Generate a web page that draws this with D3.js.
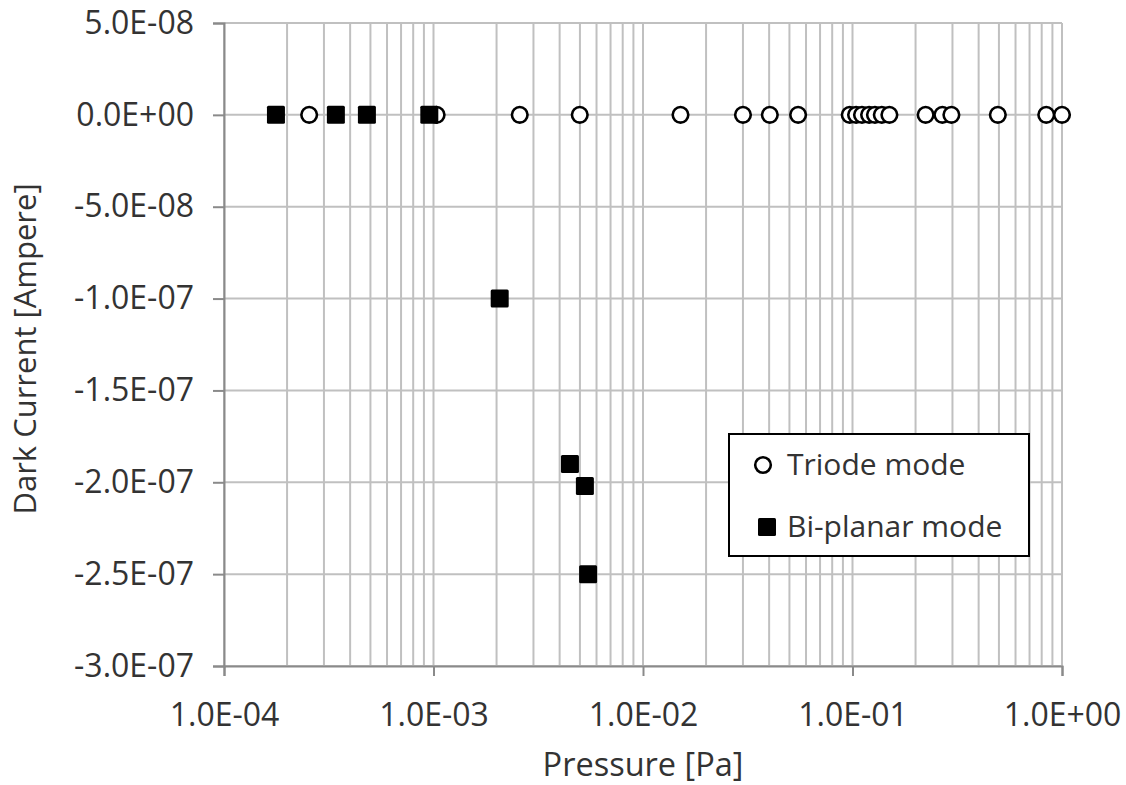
<!DOCTYPE html>
<html>
<head>
<meta charset="utf-8">
<script src="https://cdn.jsdelivr.net/npm/d3@7"></script>
<style>
  html, body { margin: 0; padding: 0; background: #fff; }
  svg { display: block; }
  text { font-family: "Open Sans", "Noto Sans", sans-serif; fill: #333; }
</style>
</head>
<body>
<svg id="chart" width="1126" height="785"></svg>
<script>
// Pressure [Pa] and dark current [A] for the two operating modes
const triodePressure = [2.55e-4, 1.035e-3, 2.58e-3, 4.99e-3, 1.51e-2, 3.0e-2, 4.03e-2, 5.5e-2,
  0.097, 0.104, 0.111, 0.120, 0.128, 0.138, 0.150, 0.2234, 0.2685, 0.2965, 0.494, 0.841, 1.0];
const triodeCurrent = [0, 0, 0, 0, 0, 0, 0, 0, 0, 0, 0, 0, 0, 0, 0, 0, 0, 0, 0, 0, 0];

const biplanarPressure = [1.77e-4, 3.42e-4, 4.81e-4, 9.55e-4, 2.07e-3, 4.48e-3, 5.28e-3, 5.47e-3];
const biplanarCurrent = [0, 0, 0, 0, -1.0e-7, -1.9e-7, -2.02e-7, -2.5e-7];

// Axis ticks and their labels
const xTickValues = [1e-4, 1e-3, 1e-2, 1e-1, 1];
const xTickLabels = ["1.0E-04", "1.0E-03", "1.0E-02", "1.0E-01", "1.0E+00"];
const yTickValues = [5e-8, 0, -5e-8, -1e-7, -1.5e-7, -2e-7, -2.5e-7, -3e-7];
const yTickLabels = ["5.0E-08", "0.0E+00", "-5.0E-08", "-1.0E-07", "-1.5E-07", "-2.0E-07", "-2.5E-07", "-3.0E-07"];

const seriesNames = ["Triode mode", "Bi-planar mode"];

const svg = d3.select("#chart");
const plotLeft = 224, plotRight = 1062, plotTop = 23, plotBottom = 666;

const x = d3.scaleLog().domain([1e-4, 1]).range([plotLeft, plotRight]);
const y = d3.scaleLinear().domain([-3e-7, 5e-8]).range([plotBottom, plotTop]);

const gridColor = "#c0c0c0";
const axisColor = "#8a8a8a";

// minor log grid: 1..9 in each decade
const minorTicks = [];
for (let e = -4; e < 0; e++) {
  for (let m = 1; m <= 9; m++) minorTicks.push(m * Math.pow(10, e));
}
minorTicks.push(1);

const grid = svg.append("g");
grid.selectAll("line.v").data(minorTicks).join("line").attr("class", "v")
  .attr("x1", d => x(d)).attr("x2", d => x(d))
  .attr("y1", plotTop).attr("y2", plotBottom)
  .attr("stroke", gridColor).attr("stroke-width", 2);
grid.selectAll("line.h").data(yTickValues).join("line").attr("class", "h")
  .attr("x1", plotLeft).attr("x2", plotRight)
  .attr("y1", d => y(d)).attr("y2", d => y(d))
  .attr("stroke", gridColor).attr("stroke-width", 2);

// y axis
const yAxis = d3.axisLeft(y).tickValues(yTickValues)
  .tickFormat((d, i) => yTickLabels[i]).tickSize(11).tickPadding(19);
const gy = svg.append("g").attr("transform", `translate(${plotLeft},0)`).call(yAxis);
gy.select(".domain").attr("stroke", axisColor).attr("stroke-width", 2);
gy.selectAll(".tick line").attr("stroke", axisColor).attr("stroke-width", 2);
gy.selectAll(".tick text").attr("font-size", 32).attr("fill", "#333")
  .attr("font-family", "'Open Sans', sans-serif");

// x axis
const xAxis = d3.axisBottom(x).tickValues(xTickValues)
  .tickFormat((d, i) => xTickLabels[i]).tickSize(10).tickPadding(27);
const gx = svg.append("g").attr("transform", `translate(0,${plotBottom})`).call(xAxis);
gx.select(".domain").attr("stroke", axisColor).attr("stroke-width", 2);
gx.selectAll(".tick line").attr("stroke", axisColor).attr("stroke-width", 2);
gx.selectAll(".tick text").attr("font-size", 32).attr("fill", "#333")
  .attr("font-family", "'Open Sans', sans-serif");

// axis titles
svg.append("text").attr("x", 643).attr("y", 776)
  .attr("text-anchor", "middle").attr("font-size", 32.5).text("Pressure [Pa]");
svg.append("text").attr("transform", `translate(36,349) rotate(-90)`)
  .attr("text-anchor", "middle").attr("font-size", 31).text("Dark Current [Ampere]");

// markers
const triode = triodePressure.map((p, i) => ({ p, c: triodeCurrent[i] }));
const biplanar = biplanarPressure.map((p, i) => ({ p, c: biplanarCurrent[i] }));

svg.append("g").selectAll("circle").data(triode).join("circle")
  .attr("cx", d => x(d.p)).attr("cy", d => y(d.c)).attr("r", 7.8)
  .attr("fill", "#fff").attr("stroke", "#000").attr("stroke-width", 2.6);

const sq = 18;
svg.append("g").selectAll("rect").data(biplanar).join("rect")
  .attr("x", d => x(d.p) - sq / 2).attr("y", d => y(d.c) - sq / 2)
  .attr("width", sq).attr("height", sq).attr("rx", 1.5)
  .attr("fill", "#000");

// legend
const legend = svg.append("g");
legend.append("rect").attr("x", 729).attr("y", 434).attr("width", 300).attr("height", 122)
  .attr("fill", "#fff").attr("stroke", "#000").attr("stroke-width", 2);
legend.append("circle").attr("cx", 763).attr("cy", 465).attr("r", 7.8)
  .attr("fill", "#fff").attr("stroke", "#000").attr("stroke-width", 2.6);
legend.append("rect").attr("x", 767 - sq / 2).attr("y", 527 - sq / 2)
  .attr("width", sq).attr("height", sq).attr("rx", 1.5).attr("fill", "#000");
legend.append("text").attr("x", 787).attr("y", 475).attr("font-size", 30).text(seriesNames[0]);
legend.append("text").attr("x", 787).attr("y", 537).attr("font-size", 30).text(seriesNames[1]);
</script>
</body>
</html>
